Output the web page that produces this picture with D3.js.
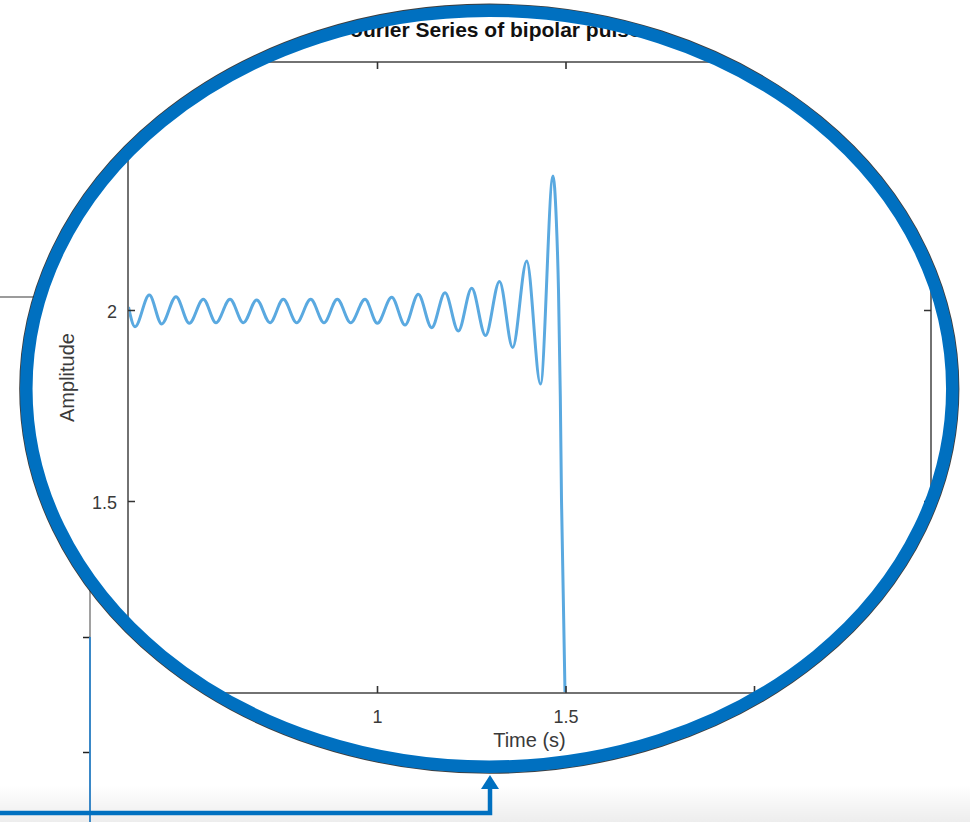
<!DOCTYPE html>
<html>
<head>
<meta charset="utf-8">
<script src="https://cdn.jsdelivr.net/npm/d3@7"></script>
<style>
  html, body { margin: 0; padding: 0; background: #fff; }
  svg { display: block; font-family: "Liberation Sans", Arial, Helvetica, sans-serif; }
</style>
</head>
<body>
<svg id="chart" width="970" height="822"></svg>
<script>
// ---------- data ----------
const titleText = "Fourier Series of bipolar pulse";
const xLabelText = "Time (s)";
const yLabelText = "Amplitude";

const xDomain = [0.3395, 2.4695];
const yDomain = [0.9974, 2.6492];
const xTickValues = [0.5, 1, 1.5, 2, 2.5];
const yTickValues = [1, 1.5, 2, 2.5];

// magnified Fourier-series curve (time, amplitude)
const timeValues = [
  0.3408, 0.3581, 0.3960, 0.4289, 0.4668, 0.5021, 0.5393, 0.5729, 0.6101, 0.6454,
  0.6809, 0.7162, 0.7515, 0.7870, 0.8241, 0.8594, 0.8947, 0.9302, 0.9682, 1.0008,
  1.0390, 1.0743, 1.1095, 1.1451, 1.1804, 1.2157, 1.2512, 1.2878, 1.3249, 1.3599,
  1.3971, 1.4337, 1.4668, 1.4756, 1.4814, 1.4862, 1.4894, 1.4987, 1.5013
];
const ampValues = [
  2.0079, 1.9563, 2.0393, 1.9634, 2.0348, 1.9652, 2.0280, 1.9668, 2.0280, 1.9668,
  2.0262, 1.9668, 2.0280, 1.9668, 2.0280, 1.9668, 2.0280, 1.9668, 2.0280, 1.9652,
  2.0332, 1.9607, 2.0411, 1.9537, 2.0453, 1.9450, 2.0568, 1.9332, 2.0746, 1.9018,
  2.1283, 1.8063, 2.3508, 2.2356, 2.0524, 1.7749, 1.5026, 0.9974, 0.7696
];

// background (un-magnified) chart seen outside the lens
const bgTickValues = [1, 0.5];
const bgPulseTime = [1.5, 1.5];
const bgPulseAmp = [1, -0.9];

// ---------- layout ----------
const svg = d3.select("#chart");
const W = 970, H = 822;
const plot = { left: 128, right: 931, top: 62, bottom: 693 };
const lens = { cx: 489.3, cy: 388.7, rx: 463, ry: 378 };
const lensBlue = "#0070C0";
const axisGray = "#727272";
const tickDark = "#333333";
const textCol = "#3a3a3a";
const fmt = d3.format("~g");

const defs = svg.append("defs");
defs.append("clipPath").attr("id", "lensClip")
  .append("ellipse").attr("cx", lens.cx).attr("cy", lens.cy).attr("rx", lens.rx).attr("ry", lens.ry);
defs.append("clipPath").attr("id", "plotClip")
  .append("rect").attr("x", plot.left).attr("y", plot.top)
  .attr("width", plot.right - plot.left).attr("height", plot.bottom - plot.top);
const grad = defs.append("linearGradient").attr("id", "floor")
  .attr("x1", 0).attr("y1", 0).attr("x2", 0).attr("y2", 1);
grad.append("stop").attr("offset", "0%").attr("stop-color", "#000").attr("stop-opacity", 0);
grad.append("stop").attr("offset", "100%").attr("stop-color", "#000").attr("stop-opacity", 0.07);

svg.append("rect").attr("width", W).attr("height", H).attr("fill", "#fff");
svg.append("rect").attr("x", 0).attr("y", 785).attr("width", W).attr("height", H - 785)
  .attr("fill", "url(#floor)");

// ---------- background chart ----------
const bgX = d3.scaleLinear().domain([0, 1.5]).range([-600, 90]);
const bgY = d3.scaleLinear().domain([0.5, 1]).range([752, 637]);
const bg = svg.append("g");
const bgTop = bgY.invert(297);
bg.append("line")
  .attr("x1", -10).attr("x2", bgX(1.5)).attr("y1", bgY(bgTop)).attr("y2", bgY(bgTop))
  .attr("stroke", "#7a7a7a").attr("stroke-width", 1.5);
bg.append("line")
  .attr("x1", bgX(1.5)).attr("x2", bgX(1.5)).attr("y1", bgY(bgTop)).attr("y2", H + 5)
  .attr("stroke", "#8a8a8a").attr("stroke-width", 1.6);
const bgAxis = bg.append("g").attr("transform", `translate(${bgX(1.5)},0)`)
  .call(d3.axisRight(bgY).tickValues(bgTickValues).tickSize(-7).tickSizeOuter(0).tickFormat(""));
bgAxis.select(".domain").remove();
bgAxis.selectAll(".tick line").attr("stroke", "#222").attr("stroke-width", 1.5);
bg.append("path")
  .datum(bgPulseTime.map((t, i) => [t, bgPulseAmp[i]]))
  .attr("fill", "none").attr("stroke", "#2f86cc").attr("stroke-width", 1.8)
  .attr("d", d3.line().x(d => bgX(d[0])).y(d => bgY(d[1])));

// connector bar (under the lens)
svg.append("path")
  .attr("d", `M-5,813 H490 V788`)
  .attr("fill", "none").attr("stroke", lensBlue).attr("stroke-width", 4.5)
  .attr("stroke-linejoin", "miter");

// ---------- magnified chart inside the lens ----------
svg.append("ellipse").attr("cx", lens.cx).attr("cy", lens.cy).attr("rx", lens.rx).attr("ry", lens.ry)
  .attr("fill", "#fff");

const lensG = svg.append("g").attr("clip-path", "url(#lensClip)");

const x = d3.scaleLinear().domain(xDomain).range([plot.left, plot.right]);
const y = d3.scaleLinear().domain(yDomain).range([plot.bottom, plot.top]);

// data curve
lensG.append("g").attr("clip-path", "url(#plotClip)")
  .append("path")
  .datum(timeValues.map((t, i) => [t, ampValues[i]]))
  .attr("fill", "none")
  .attr("stroke", "#5aa9e0")
  .attr("stroke-width", 3)
  .attr("stroke-linejoin", "round")
  .attr("d", d3.line().x(d => x(d[0])).y(d => y(d[1])).curve(d3.curveMonotoneX));

// axes box
lensG.append("rect")
  .attr("x", plot.left).attr("y", plot.top)
  .attr("width", plot.right - plot.left).attr("height", plot.bottom - plot.top)
  .attr("fill", "none").attr("stroke", axisGray).attr("stroke-width", 2);

function styleAxis(g, labels) {
  g.select(".domain").remove();
  g.selectAll(".tick line").attr("stroke", tickDark).attr("stroke-width", 1.6);
  g.selectAll(".tick text")
    .attr("fill", textCol)
    .style("font-size", "18px")
    .style("font-family", "'Liberation Sans', Arial, sans-serif");
  if (!labels) g.selectAll(".tick text").remove();
}

lensG.append("g").attr("transform", `translate(0,${plot.bottom})`)
  .call(d3.axisBottom(x).tickValues(xTickValues).tickFormat(fmt).tickSize(-7).tickSizeOuter(0).tickPadding(17))
  .call(g => styleAxis(g, true));
lensG.append("g").attr("transform", `translate(0,${plot.top})`)
  .call(d3.axisTop(x).tickValues(xTickValues).tickSize(-7).tickSizeOuter(0))
  .call(g => styleAxis(g, false));
lensG.append("g").attr("transform", `translate(${plot.left},0)`)
  .call(d3.axisLeft(y).tickValues(yTickValues).tickFormat(fmt).tickSize(-7).tickSizeOuter(0).tickPadding(11))
  .call(g => { styleAxis(g, true); g.selectAll(".tick text").attr("dy", "0.42em"); });
lensG.append("g").attr("transform", `translate(${plot.right},0)`)
  .call(d3.axisRight(y).tickValues(yTickValues).tickSize(-7).tickSizeOuter(0))
  .call(g => styleAxis(g, false));

// labels
lensG.append("text")
  .attr("x", (plot.left + plot.right) / 2).attr("y", 747)
  .attr("text-anchor", "middle").attr("fill", textCol)
  .style("font-size", "20px").text(xLabelText);
lensG.append("text")
  .attr("transform", `translate(74,${(plot.top + plot.bottom) / 2}) rotate(-90)`)
  .attr("text-anchor", "middle").attr("fill", textCol)
  .style("font-size", "20px").text(yLabelText);
lensG.append("text")
  .attr("x", 489).attr("y", 37)
  .attr("text-anchor", "middle").attr("fill", "#111")
  .style("font-size", "21px").style("font-weight", "bold").text(titleText);

// ---------- lens rim ----------
svg.append("ellipse").attr("cx", lens.cx).attr("cy", lens.cy)
  .attr("rx", lens.rx + 6.3).attr("ry", lens.ry + 6.3)
  .attr("fill", "none").attr("stroke", "#1b1b1b").attr("stroke-width", 1.6).attr("stroke-opacity", 0.85);
svg.append("ellipse").attr("cx", lens.cx).attr("cy", lens.cy).attr("rx", lens.rx).attr("ry", lens.ry)
  .attr("fill", "none").attr("stroke", lensBlue).attr("stroke-width", 12.5);

// arrow head pointing up to the lens
svg.append("path")
  .attr("d", "M490,775 L481,789 L499,789 Z")
  .attr("fill", lensBlue);
</script>
</body>
</html>
